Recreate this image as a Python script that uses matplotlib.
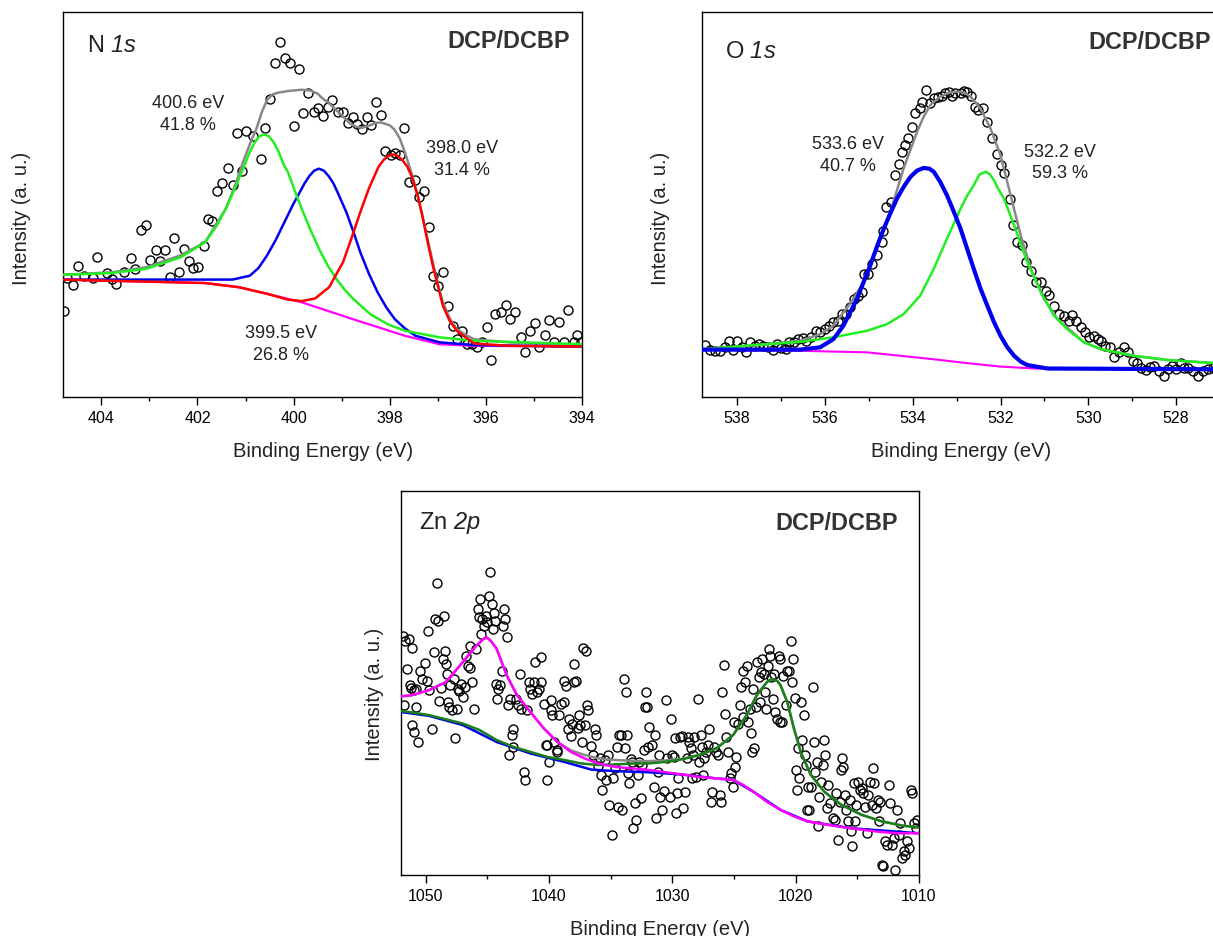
import matplotlib
matplotlib.use("Agg")
import matplotlib.pyplot as plt
from matplotlib.ticker import MultipleLocator

plt.rcParams['font.family'] = ['Liberation Sans', 'DejaVu Sans']
plt.rcParams['mathtext.fontset'] = 'custom'
plt.rcParams['mathtext.rm'] = 'Liberation Sans:italic'
plt.rcParams['mathtext.it'] = 'Liberation Sans:italic'

# ---------------- N 1s ----------------
n1s_be = [404.78, 404.72, 404.59, 404.49, 404.36, 404.18, 404.09, 403.89, 403.78, 403.69,
          403.53, 403.39, 403.30, 403.17, 403.08, 402.98, 402.86, 402.78, 402.67, 402.58,
          402.48, 402.38, 402.28, 402.17, 402.10, 401.99, 401.86, 401.79, 401.69, 401.59,
          401.49, 401.37, 401.27, 401.18, 401.08, 400.98, 400.85, 400.67, 400.59, 400.49,
          400.38, 400.29, 400.18, 400.08, 399.98, 399.88, 399.80, 399.69, 399.58, 399.49,
          399.39, 399.29, 399.19, 399.08, 398.97, 398.86, 398.77, 398.67, 398.58, 398.48,
          398.38, 398.28, 398.18, 398.09, 397.98, 397.89, 397.79, 397.69, 397.59, 397.48,
          397.38, 397.28, 397.18, 397.10, 397.00, 396.89, 396.79, 396.69, 396.59, 396.49,
          396.39, 396.28, 396.17, 396.08, 395.98, 395.89, 395.80, 395.68, 395.58, 395.49,
          395.38, 395.27, 395.18, 395.08, 394.98, 394.88, 394.77, 394.68, 394.57, 394.48,
          394.37, 394.28, 394.17, 394.09, 394.01]
n1s_counts = [22.4, 30.8, 29.1, 34.1, 31.5, 30.8, 36.3, 32.1, 30.7, 29.3,
              32.4, 36.1, 33.3, 43.3, 44.7, 35.7, 38.3, 35.4, 38.3, 31.1,
              41.3, 32.4, 38.5, 35.2, 33.4, 33.7, 39.2, 46.3, 45.7, 53.4,
              55.7, 59.5, 55.0, 68.5, 58.6, 69.1, 67.9, 61.9, 69.9, 77.3,
              86.7, 92.1, 88.0, 86.7, 70.4, 85.2, 73.7, 78.9, 74.1, 75.0,
              73.1, 75.2, 77.1, 74.1, 74.1, 71.1, 72.8, 70.8, 69.6, 72.8,
              70.6, 76.5, 73.2, 63.9, 62.8, 63.5, 62.8, 69.9, 55.9, 56.3,
              52.0, 53.6, 44.1, 31.5, 28.9, 32.4, 23.7, 18.5, 15.0, 17.2,
              13.7, 13.7, 13.1, 14.2, 18.1, 9.6, 21.5, 22.0, 23.9, 20.2,
              22.2, 15.5, 11.6, 17.2, 19.2, 12.9, 16.1, 20.0, 14.2, 19.6,
              14.2, 22.6, 14.2, 16.2, 14.2]

n1s_env_be = [404.86, 403.78, 403.07, 402.35, 401.84, 401.41, 401.20, 401.05, 400.90, 400.77,
              400.66, 400.55, 400.45, 400.34, 400.10, 399.83, 399.65, 399.50, 399.40, 399.25,
              399.11, 398.95, 398.83, 398.70, 398.58, 398.40, 398.30, 398.18, 398.00, 397.90,
              397.79, 397.68, 397.53, 397.42, 397.32, 397.20, 397.10, 397.00, 396.89, 396.75,
              396.60, 396.40, 396.24, 395.52, 393.98]
n1s_env = [31.7, 32.4, 33.7, 36.8, 40.2, 48.9, 55.5, 61.1, 66.0, 69.8,
           74.0, 77.2, 78.5, 79.0, 79.5, 79.8, 79.6, 78.8, 77.6, 76.2,
           74.5, 72.6, 71.1, 70.2, 69.9, 70.6, 71.2, 71.3, 70.6, 69.5,
           67.2, 63.5, 57.6, 52.5, 47.2, 40.5, 35.0, 29.5, 24.6, 20.5,
           17.6, 16.0, 15.0, 14.2, 13.5]

n1s_bg_be = [404.86, 401.84, 401.13, 400.55, 399.83, 398.76, 397.68, 396.96, 396.24, 393.98]
n1s_bg = [30.5, 29.6, 28.5, 26.8, 24.6, 20.2, 15.9, 13.7, 13.3, 13.1]

n1s_p398_be = [404.86, 401.84, 401.13, 400.55, 400.12, 399.83, 399.55, 399.26, 398.97, 398.80,
               398.61, 398.43, 398.23, 398.13, 398.03, 397.93, 397.83, 397.73, 397.63, 397.53,
               397.42, 397.32, 397.20, 397.10, 396.89, 396.75, 396.60, 396.24, 395.52, 393.98]
n1s_p398 = [30.5, 29.6, 28.5, 26.8, 25.3, 24.9, 25.6, 28.5, 35.0, 41.0,
            48.0, 54.2, 59.8, 61.5, 62.6, 63.0, 62.6, 61.5, 59.8, 57.0,
            52.5, 47.2, 39.8, 34.1, 23.7, 19.8, 17.2, 13.9, 13.3, 13.1]

n1s_p3995_be = [404.86, 401.27, 400.91, 400.73, 400.55, 400.37, 400.19, 400.01, 399.83, 399.77,
                399.67, 399.57, 399.47, 399.37, 399.27, 399.17, 399.07, 398.90, 398.75, 398.61,
                398.43, 398.25, 398.07, 397.89, 397.68, 397.46, 396.96, 396.24, 393.98]
n1s_p3995 = [30.5, 30.5, 31.5, 33.5, 36.8, 40.8, 45.4, 50.0, 54.1, 55.5,
             57.4, 58.8, 59.3, 58.8, 57.4, 55.5, 52.8, 48.0, 42.8, 37.6,
             32.0, 27.2, 23.3, 20.2, 17.8, 15.9, 14.2, 13.5, 13.1]

n1s_p4006_be = [404.86, 403.78, 403.07, 402.35, 401.84, 401.60, 401.41, 401.21, 401.01, 400.91,
                400.81, 400.71, 400.61, 400.51, 400.41, 400.31, 400.21, 400.12, 399.98, 399.83,
                399.65, 399.47, 399.29, 399.11, 398.93, 398.76, 398.40, 398.04, 397.68, 396.96,
                396.24, 393.98]
n1s_p4006 = [31.7, 32.2, 33.3, 36.3, 40.2, 44.5, 48.9, 54.5, 60.5, 63.7,
             66.1, 67.7, 68.2, 67.7, 66.1, 63.7, 60.5, 58.5, 53.8, 48.9,
             43.5, 38.5, 34.2, 30.7, 27.8, 25.5, 21.5, 18.9, 17.2, 15.5,
             14.6, 13.7]

n1s_labels = ["400.6 eV\n41.8 %", "398.0 eV\n31.4 %", "399.5 eV\n26.8 %"]
n1s_label_be = [402.2, 396.49, 400.26]
n1s_label_y = [73.7, 61.9, 13.9]

# ---------------- O 1s ----------------
o1s_be = [538.74, 538.62, 538.51, 538.40, 538.28, 538.18, 538.09, 538.00, 537.90, 537.79,
          537.71, 537.60, 537.50, 537.41, 537.29, 537.19, 537.10, 536.99, 536.89, 536.81,
          536.71, 536.61, 536.51, 536.42, 536.31, 536.20, 536.11, 536.00, 535.90, 535.81,
          535.71, 535.62, 535.52, 535.43, 535.33, 535.24, 535.16, 535.11, 535.01, 534.92,
          534.82, 534.70, 534.68, 534.60, 534.50, 534.40, 534.32, 534.25, 534.17, 534.10,
          534.02, 533.94, 533.84, 533.79, 533.70, 533.60, 533.52, 533.43, 533.33, 533.26,
          533.18, 533.10, 533.03, 532.91, 532.84, 532.76, 532.68, 532.59, 532.52, 532.39,
          532.30, 532.19, 532.09, 532.00, 531.91, 531.79, 531.72, 531.62, 531.50, 531.43,
          531.31, 531.20, 531.08, 530.97, 530.89, 530.78, 530.67, 530.55, 530.44, 530.38,
          530.28, 530.17, 530.08, 529.98, 529.88, 529.79, 529.71, 529.62, 529.50, 529.41,
          529.29, 529.18, 529.09, 528.99, 528.89, 528.80, 528.69, 528.59, 528.50, 528.38,
          528.28, 528.19, 528.10, 528.00, 527.89, 527.81, 527.72, 527.62, 527.50, 527.39,
          527.28, 527.16]
o1s_counts = [13.5, 12.3, 12.0, 12.0, 12.9, 14.6, 12.3, 14.6, 12.9, 11.6,
              14.2, 13.3, 13.7, 13.3, 12.9, 12.3, 13.7, 12.6, 12.4, 14.3,
              14.2, 15.0, 15.2, 14.6, 15.5, 17.2, 16.9, 17.6, 18.5, 19.4,
              19.8, 21.5, 21.5, 23.3, 25.5, 26.3, 27.2, 32.0, 32.0, 34.6,
              36.8, 40.2, 43.0, 49.3, 50.7, 57.6, 60.6, 63.7, 65.4, 67.2,
              70.2, 73.7, 75.0, 76.7, 79.8, 76.3, 77.6, 78.0, 78.3, 78.9,
              79.3, 78.3, 78.9, 78.9, 79.5, 79.3, 78.3, 75.2, 74.5, 75.0,
              71.5, 67.2, 63.0, 60.2, 58.3, 51.5, 44.6, 40.2, 39.4, 35.0,
              32.8, 29.8, 29.8, 27.6, 26.5, 23.7, 21.5, 21.1, 19.8, 21.3,
              19.8, 18.1, 16.9, 15.5, 15.9, 15.0, 14.6, 13.3, 12.9, 10.5,
              11.6, 13.1, 11.6, 9.4, 8.8, 7.6, 7.0, 7.9, 8.1, 6.8,
              5.5, 7.2, 8.1, 7.4, 8.9, 7.6, 7.6, 6.8, 5.5, 6.8,
              7.2, 7.6]

o1s_env_be = [538.85, 537.33, 536.57, 536.11, 535.81, 535.43, 535.12, 534.82, 534.51, 534.21,
              533.90, 533.75, 533.60, 533.40, 533.22, 533.05, 532.91, 532.80, 532.68, 532.46,
              532.23, 532.00, 531.77, 531.54, 531.31, 531.01, 530.70, 530.40, 530.10, 529.71,
              528.96, 528.19, 527.12]
o1s_env = [12.4, 13.7, 14.6, 16.3, 18.5, 24.2, 29.8, 38.5, 48.0, 59.3,
           68.9, 72.8, 75.8, 77.8, 78.9, 79.3, 79.3, 78.9, 78.0, 75.0,
           69.8, 62.8, 52.4, 42.0, 33.3, 25.5, 20.2, 17.2, 14.2, 12.4,
           10.7, 9.6, 8.8]

o1s_bg_be = [538.85, 536.57, 535.04, 534.28, 533.52, 532.76, 532.00, 531.24, 527.12]
o1s_bg = [12.3, 12.0, 11.6, 10.7, 9.8, 8.8, 7.9, 7.4, 7.2]

o1s_p5336_be = [538.85, 536.57, 536.11, 535.81, 535.58, 535.27, 534.97, 534.82, 534.66, 534.51,
                534.36, 534.20, 534.05, 533.90, 533.75, 533.62, 533.52, 533.37, 533.22, 533.07,
                532.91, 532.76, 532.61, 532.46, 532.30, 532.15, 532.00, 531.85, 531.69, 531.54,
                531.39, 530.93, 527.12]
o1s_p5336 = [12.3, 12.3, 12.9, 15.0, 18.5, 25.5, 34.1, 38.9, 43.7, 47.7,
             51.5, 54.7, 57.2, 58.8, 59.5, 59.3, 58.5, 55.8, 52.4, 48.3,
             43.7, 38.5, 33.3, 28.3, 23.7, 19.5, 15.9, 13.0, 10.7, 9.2,
             8.3, 7.4, 7.2]

o1s_p5322_be = [538.85, 537.33, 536.57, 535.81, 535.04, 534.59, 534.21, 533.83, 533.52, 533.22,
                532.91, 532.76, 532.61, 532.48, 532.34, 532.24, 532.15, 532.05, 531.92, 531.69,
                531.39, 531.08, 530.78, 530.48, 530.10, 529.71, 528.96, 528.19, 527.12]
o1s_p5322 = [12.4, 13.7, 14.3, 15.5, 17.2, 18.9, 21.5, 26.3, 33.3, 41.1,
             48.9, 52.3, 55.0, 57.8, 58.5, 57.8, 56.3, 54.0, 51.5, 44.6,
             35.0, 27.2, 21.1, 17.6, 14.2, 12.4, 10.7, 9.6, 8.8]

o1s_labels = ["533.6 eV\n40.7 %", "532.2 eV\n59.3 %"]
o1s_label_be = [535.48, 530.65]
o1s_label_y = [63.0, 61.0]

# ---------------- Zn 2p ----------------
zn_be = [1051.86, 1051.64, 1051.32, 1051.10, 1051.51, 1051.78, 1051.23, 1050.96, 1050.82, 1051.10,
         1050.96, 1050.60, 1051.15, 1050.77, 1050.49, 1050.27, 1050.05, 1049.86, 1049.81, 1049.73,
         1049.51, 1049.32, 1049.23, 1049.12, 1048.96, 1048.90, 1048.77, 1048.63, 1048.49, 1048.41,
         1048.36, 1048.30, 1048.22, 1048.08, 1048.03, 1047.86, 1047.67, 1047.59, 1047.48, 1047.40,
         1047.26, 1047.12, 1046.99, 1046.85, 1046.71, 1046.58, 1046.44, 1046.38, 1046.22, 1046.11,
         1045.89, 1045.75, 1045.62, 1045.67, 1045.48, 1045.40, 1045.29, 1045.12, 1045.01, 1044.90,
         1044.79, 1044.66, 1044.52, 1044.47, 1044.36, 1044.30, 1044.19, 1044.11, 1043.97, 1043.84,
         1043.75, 1043.64, 1043.53, 1043.42, 1043.29, 1043.15, 1043.21, 1043.01, 1042.88, 1042.88,
         1042.66, 1042.55, 1042.38, 1042.27, 1042.05, 1041.92, 1041.78, 1041.64, 1041.51, 1041.37,
         1041.23, 1041.10, 1040.96, 1040.82, 1040.68, 1040.63, 1040.41, 1040.27, 1040.19, 1040.14,
         1040.00, 1039.86, 1039.81, 1039.73, 1039.59, 1039.37, 1039.32, 1039.18, 1038.99, 1038.82,
         1038.77, 1038.63, 1038.49, 1038.36, 1038.22, 1038.16, 1038.00, 1037.95, 1037.81, 1037.67,
         1037.53, 1037.45, 1037.34, 1037.26, 1037.12, 1036.99, 1036.90, 1036.85, 1036.63, 1036.44,
         1036.30, 1036.16, 1036.03, 1035.89, 1035.81, 1035.70, 1035.48, 1035.34, 1035.21, 1035.15,
         1034.93, 1034.79, 1034.66, 1034.52, 1034.38, 1034.33, 1034.16, 1034.05, 1033.89, 1033.84,
         1033.75, 1033.70, 1033.56, 1033.51, 1033.34, 1033.29, 1033.15, 1033.01, 1032.96, 1032.79,
         1032.68, 1032.52, 1032.47, 1032.33, 1032.25, 1032.14, 1032.05, 1031.97, 1031.86, 1031.64,
         1031.51, 1031.42, 1031.32, 1031.15, 1031.10, 1030.96, 1030.82, 1030.68, 1030.55, 1030.41,
         1030.22, 1030.14, 1030.00, 1029.86, 1029.78, 1029.73, 1029.59, 1029.51, 1029.40, 1029.23,
         1029.12, 1028.96, 1028.85, 1028.77, 1028.63, 1028.49, 1028.41, 1028.30, 1028.22, 1028.08,
         1027.95, 1027.86, 1027.67, 1027.59, 1027.48, 1027.40, 1027.26, 1027.12, 1026.99, 1026.85,
         1026.77, 1026.66, 1026.49, 1026.30, 1026.16, 1026.03, 1025.95, 1025.84, 1025.75, 1025.67,
         1025.48, 1025.34, 1025.21, 1025.12, 1025.01, 1024.93, 1024.85, 1024.66, 1024.52, 1024.47,
         1024.30, 1024.25, 1024.11, 1023.97, 1023.84, 1023.70, 1023.64, 1023.56, 1023.42, 1023.37,
         1023.21, 1023.10, 1023.01, 1022.93, 1022.82, 1022.74, 1022.60, 1022.47, 1022.38, 1022.27,
         1022.19, 1022.11, 1022.00, 1021.84, 1021.73, 1021.64, 1021.51, 1021.37, 1021.29, 1021.23,
         1021.10, 1021.01, 1020.82, 1020.68, 1020.55, 1020.41, 1020.27, 1020.19, 1020.08, 1020.00,
         1019.92, 1019.81, 1019.73, 1019.59, 1019.45, 1019.32, 1019.26, 1019.18, 1019.10, 1018.99,
         1018.90, 1018.77, 1018.63, 1018.55, 1018.44, 1018.27, 1018.22, 1018.08, 1017.95, 1017.81,
         1017.67, 1017.62, 1017.45, 1017.34, 1017.18, 1016.99, 1016.85, 1016.71, 1016.58, 1016.44,
         1016.30, 1016.25, 1016.16, 1016.03, 1015.89, 1015.75, 1015.62, 1015.48, 1015.42, 1015.26,
         1015.15, 1015.07, 1014.93, 1014.79, 1014.66, 1014.52, 1014.38, 1014.25, 1014.11, 1013.97,
         1013.84, 1013.70, 1013.62, 1013.51, 1013.34, 1013.23, 1013.15, 1013.01, 1012.88, 1012.74,
         1012.60, 1012.47, 1012.33, 1012.19, 1012.05, 1011.92, 1011.78, 1011.64, 1011.51, 1011.37,
         1011.23, 1011.10, 1010.96, 1010.82, 1010.68, 1010.55, 1010.41, 1010.27, 1010.14]
zn_counts = [62.3, 61.0, 61.3, 59.0, 53.5, 44.2, 49.4, 48.1, 43.7, 39.0,
             37.1, 34.6, 48.7, 48.5, 53.2, 51.1, 55.2, 50.6, 63.4, 48.1,
             38.1, 58.0, 66.7, 76.0, 66.1, 45.2, 48.7, 56.3, 67.5, 58.2,
             55.0, 52.4, 45.0, 43.7, 49.4, 42.9, 51.1, 35.5, 43.3, 48.5,
             47.8, 49.8, 46.3, 48.9, 57.1, 54.5, 53.9, 59.7, 50.2, 43.3,
             58.9, 69.3, 71.9, 67.1, 62.8, 66.7, 64.9, 67.5, 65.8, 72.6,
             78.8, 70.6, 64.1, 68.2, 66.1, 49.8, 45.9, 48.5, 49.4, 53.2,
             64.9, 69.3, 66.7, 61.9, 44.2, 45.9, 31.2, 36.4, 38.1, 33.3,
             45.9, 44.2, 52.4, 43.3, 26.8, 24.7, 42.9, 50.2, 48.5, 47.2,
             50.2, 55.4, 47.6, 48.5, 56.7, 50.2, 44.6, 33.8, 33.9, 24.7,
             29.4, 45.5, 42.9, 41.6, 34.6, 32.5, 32.0, 41.6, 44.6, 50.4,
             45.0, 49.2, 38.1, 40.7, 36.2, 39.4, 50.2, 55.0, 50.4, 38.3,
             41.6, 39.0, 34.6, 59.0, 39.0, 58.2, 44.2, 42.9, 33.6, 31.2,
             38.1, 36.4, 28.4, 30.3, 26.0, 22.1, 29.9, 24.7, 31.2, 18.2,
             10.4, 25.1, 27.9, 33.3, 17.7, 36.4, 36.4, 16.9, 50.9, 32.9,
             47.6, 36.4, 26.4, 23.8, 30.1, 29.4, 12.1, 18.6, 14.3, 26.0,
             29.4, 19.9, 28.6, 32.5, 43.7, 47.6, 43.7, 33.3, 38.5, 33.8,
             22.9, 36.4, 14.9, 26.8, 31.2, 20.3, 16.9, 21.8, 45.5, 30.3,
             20.3, 40.7, 31.2, 30.7, 35.5, 16.0, 21.2, 25.1, 35.9, 36.2,
             17.3, 21.6, 30.5, 35.9, 34.6, 32.9, 25.1, 31.2, 35.9, 25.5,
             45.7, 29.4, 36.4, 33.3, 26.0, 30.5, 32.0, 33.8, 38.1, 19.0,
             21.6, 33.3, 32.0, 31.2, 20.8, 19.0, 47.6, 54.7, 42.0, 35.9,
             32.0, 25.1, 26.4, 22.9, 39.8, 28.1, 30.7, 39.4, 44.3, 48.9,
             53.2, 41.1, 50.2, 54.5, 39.8, 43.3, 36.8, 32.0, 48.5, 32.9,
             43.7, 55.4, 51.5, 45.0, 52.8, 56.3, 52.4, 47.6, 43.3, 54.5,
             58.9, 57.1, 51.5, 45.9, 52.4, 42.4, 40.7, 57.1, 56.3, 39.8,
             39.8, 51.9, 44.2, 53.0, 53.0, 61.0, 50.2, 56.3, 46.1, 27.3,
             22.1, 32.9, 25.1, 45.0, 35.1, 41.6, 31.2, 28.6, 16.9, 22.9,
             16.9, 22.9, 48.9, 34.6, 26.8, 29.4, 12.6, 20.3, 24.2, 28.6,
             35.1, 31.2, 17.3, 23.4, 18.6, 14.7, 14.3, 21.2, 9.1, 19.0,
             27.3, 30.3, 28.1, 20.8, 16.9, 13.9, 19.5, 11.3, 7.4, 23.8,
             13.9, 18.2, 24.2, 22.1, 22.5, 21.2, 17.7, 10.8, 20.8, 24.2,
             18.2, 27.9, 23.8, 17.3, 19.5, 13.9, 19.0, 2.6, 2.2, 8.7,
             7.8, 23.4, 18.6, 7.8, 9.5, 1.3, 16.9, 10.4, 13.4, 4.3,
             6.1, 5.2, 8.7, 6.9, 22.1, 21.2, 13.4, 12.1, 14.3]

zn_bg_be = [1052.47, 1049.73, 1046.99, 1044.25, 1041.51, 1038.77, 1036.58, 1034.66, 1031.92, 1029.18,
            1026.44, 1025.07, 1023.42, 1021.23, 1019.04, 1015.48, 1010.00]
zn_bg = [42.6, 41.4, 39.0, 34.6, 31.6, 29.4, 27.4, 27.0, 26.7, 26.1,
         25.1, 24.7, 21.6, 16.9, 13.9, 12.1, 10.8]

zn_env_be = [1052.47, 1051.10, 1049.73, 1048.36, 1046.99, 1045.89, 1045.40, 1045.07, 1044.70, 1044.25,
             1043.42, 1042.60, 1041.51, 1040.41, 1039.32, 1038.22, 1037.12, 1036.03, 1034.66, 1033.29,
             1031.92, 1030.55, 1029.18, 1027.81, 1026.44, 1025.07, 1023.97, 1023.15, 1022.33, 1022.05,
             1021.78, 1021.50, 1021.23, 1020.68, 1020.14, 1019.59, 1018.77, 1017.67, 1016.30, 1014.66,
             1013.01, 1011.37, 1010.00]
zn_env = [46.3, 46.8, 48.1, 50.2, 55.4, 59.7, 61.2, 61.9, 60.9, 58.9,
          51.9, 46.8, 42.4, 38.1, 34.6, 32.4, 31.2, 30.3, 29.9, 29.7,
          29.6, 29.8, 30.2, 31.2, 32.9, 36.4, 41.6, 46.8, 50.2, 50.8,
          50.9, 50.5, 49.4, 45.0, 38.1, 32.0, 26.0, 21.6, 18.2, 15.6,
          13.9, 12.8, 12.3]

zn_p12_be = [1052.47, 1051.10, 1049.73, 1048.36, 1046.99, 1045.89, 1045.40, 1045.07, 1044.70, 1044.25,
             1043.42, 1042.60, 1041.51, 1040.41, 1039.32, 1038.22, 1037.12, 1036.03, 1034.66, 1033.29,
             1031.92, 1030.55, 1029.18, 1027.81, 1026.44, 1025.07, 1024.25, 1023.42, 1022.33, 1021.23,
             1020.14, 1019.04, 1017.40, 1015.48, 1013.56, 1011.92, 1010.00]
zn_p12 = [46.3, 46.8, 48.1, 50.2, 55.4, 59.7, 61.2, 61.9, 60.9, 58.9,
          51.9, 46.8, 42.4, 38.1, 34.6, 32.0, 30.3, 29.0, 28.1, 27.7,
          27.3, 26.7, 26.1, 25.5, 25.1, 24.7, 23.4, 21.6, 19.0, 16.9,
          15.2, 13.9, 13.0, 12.1, 11.3, 10.8, 10.8]

zn_p32_be = [1052.47, 1051.10, 1049.73, 1048.36, 1046.99, 1045.62, 1044.25, 1042.88, 1041.51, 1040.14,
             1038.77, 1037.40, 1036.03, 1034.66, 1033.29, 1031.92, 1030.55, 1029.18, 1027.81, 1026.44,
             1025.07, 1023.97, 1023.15, 1022.33, 1022.05, 1021.78, 1021.50, 1021.23, 1020.68, 1020.14,
             1019.59, 1018.77, 1017.67, 1016.30, 1014.66, 1013.01, 1011.37, 1010.00]
zn_p32 = [42.9, 42.3, 41.6, 40.5, 39.4, 37.7, 35.1, 33.3, 32.0, 30.7,
          29.9, 29.0, 28.6, 28.7, 29.0, 29.0, 29.4, 30.1, 31.2, 32.9,
          36.4, 41.6, 46.8, 50.2, 50.8, 50.9, 50.5, 49.4, 45.0, 38.1,
          32.0, 26.0, 21.6, 18.2, 15.6, 13.9, 12.8, 12.3]

sample_label = "DCP/DCBP"

# ---------------- figure ----------------
W, H = 1213, 937
fig = plt.figure(figsize=(W / 100, H / 100), dpi=100)


def px_axes(left, top, right, bottom):
    return fig.add_axes([left / W, 1 - bottom / H, (right - left) / W, (bottom - top) / H])


def style(ax, major, minor):
    ax.xaxis.set_major_locator(MultipleLocator(major))
    ax.xaxis.set_minor_locator(MultipleLocator(minor))
    ax.tick_params(axis='x', which='major', direction='out', length=5.5, width=1.0,
                   labelsize=11.5, pad=4, top=False)
    ax.tick_params(axis='x', which='minor', direction='out', length=3.0, width=1.0, top=False)
    ax.tick_params(axis='y', which='both', left=False, right=False, labelleft=False)
    for s in ax.spines.values():
        s.set_linewidth(1.0)
        s.set_color('black')


mk = dict(linestyle='none', marker='o', mfc='none', mec='black', ms=6.5, mew=1.0, zorder=2)
line_kw = dict(solid_joinstyle='round', solid_capstyle='round')

# N 1s
ax1 = px_axes(63, 13, 581.7, 398)
ax1.plot(n1s_be, n1s_counts, **mk)
ax1.plot(n1s_env_be, n1s_env, color='#888888', lw=1.8, zorder=3, **line_kw)
ax1.plot(n1s_bg_be, n1s_bg, color='#ff00ff', lw=1.6, zorder=3, **line_kw)
ax1.plot(n1s_p3995_be, n1s_p3995, color='#0000ee', lw=1.8, zorder=4, **line_kw)
ax1.plot(n1s_p4006_be, n1s_p4006, color='#22ee22', lw=1.8, zorder=5, **line_kw)
ax1.plot(n1s_p398_be, n1s_p398, color='#ff0000', lw=1.8, zorder=6, **line_kw)
ax1.set_xlim(404.8, 394.0)
ax1.set_ylim(0, 100)
style(ax1, 2, 1)
for t, xb, yb in zip(n1s_labels, n1s_label_be, n1s_label_y):
    ax1.text(xb, yb, t, ha='center', va='center', fontsize=13, color='#222222', linespacing=1.35)
ax1.text(0.046, 0.913, r"N $1s$", transform=ax1.transAxes, fontsize=17,
         ha='left', va='center', color='#222222')
ax1.text(0.977, 0.926, sample_label, transform=ax1.transAxes, fontsize=16.8,
         fontweight='bold', ha='right', va='center', color='#333333')

# O 1s
ax2 = px_axes(702, 13, 1220, 398)
ax2.plot(o1s_be, o1s_counts, **mk)
ax2.plot(o1s_env_be, o1s_env, color='#888888', lw=1.8, zorder=3, **line_kw)
ax2.plot(o1s_bg_be, o1s_bg, color='#ff00ff', lw=1.5, zorder=3, **line_kw)
ax2.plot(o1s_p5322_be, o1s_p5322, color='#22ee22', lw=1.8, zorder=4, **line_kw)
ax2.plot(o1s_p5336_be, o1s_p5336, color='#0000ee', lw=3.0, zorder=5, **line_kw)
ax2.set_xlim(538.8, 527.0)
ax2.set_ylim(0, 100)
style(ax2, 2, 1)
for t, xb, yb in zip(o1s_labels, o1s_label_be, o1s_label_y):
    ax2.text(xb, yb, t, ha='center', va='center', fontsize=13, color='#222222', linespacing=1.35)
ax2.text(0.044, 0.899, r"O $1s$", transform=ax2.transAxes, fontsize=17,
         ha='left', va='center', color='#222222')
ax2.text(0.983, 0.924, sample_label, transform=ax2.transAxes, fontsize=16.8,
         fontweight='bold', ha='right', va='center', color='#333333')

# Zn 2p
ax3 = px_axes(401, 492, 919, 875.7)
ax3.plot(zn_be, zn_counts, **mk)
ax3.plot(zn_bg_be, zn_bg, color='#0000ee', lw=1.8, zorder=3, **line_kw)
ax3.plot(zn_env_be, zn_env, color='#888888', lw=1.8, zorder=4, **line_kw)
ax3.plot(zn_p32_be, zn_p32, color='#1a801a', lw=1.8, zorder=5, **line_kw)
ax3.plot(zn_p12_be, zn_p12, color='#ff00ff', lw=1.8, zorder=6, **line_kw)
ax3.set_xlim(1052.0, 1010.0)
ax3.set_ylim(0, 100)
style(ax3, 10, 5)
ax3.text(0.034, 0.918, r"Zn $2p$", transform=ax3.transAxes, fontsize=17,
         ha='left', va='center', color='#222222')
ax3.text(0.960, 0.918, sample_label, transform=ax3.transAxes, fontsize=16.8,
         fontweight='bold', ha='right', va='center', color='#333333')

# axis titles
for (x, y) in [(22, 218), (660, 218), (375, 694)]:
    fig.text(x / W, 1 - y / H, "Intensity (a. u.)", rotation=90, ha='center', va='center',
             fontsize=14.5, color='#222222')
for (x, y) in [(323, 457), (961, 457), (660, 935)]:
    fig.text(x / W, 1 - y / H, "Binding Energy (eV)", ha='center', va='baseline',
             fontsize=14.5, color='#222222')

fig.savefig("out.png", dpi=100)
